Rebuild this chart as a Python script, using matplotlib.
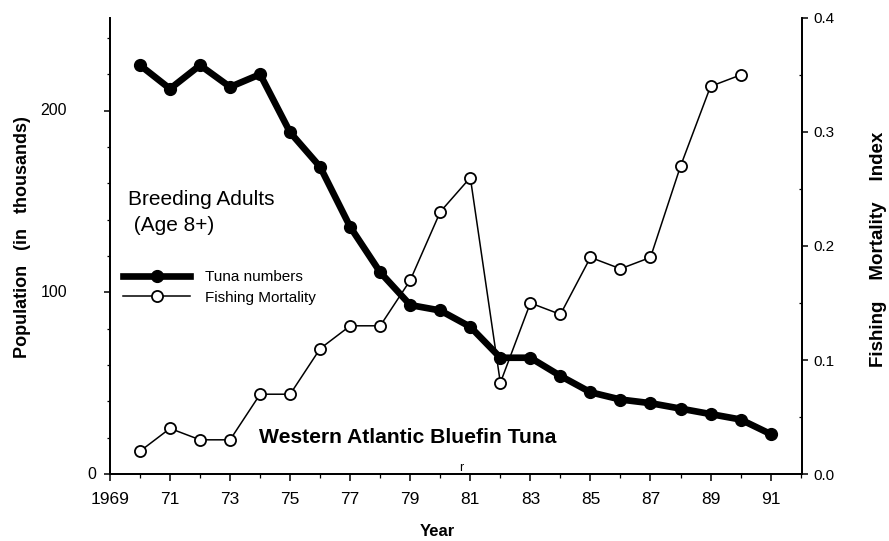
import matplotlib
matplotlib.use("Agg")
import matplotlib.pyplot as plt
from matplotlib.ticker import MultipleLocator, FixedLocator, FuncFormatter, NullFormatter

plt.rcParams["font.family"] = ["Liberation Sans", "DejaVu Sans"]

# ── data ─────────────────────────────────────────────────────────────────
years = list(range(1970, 1992))
tuna_numbers = [225, 212, 225, 213, 220, 188, 169, 136, 111, 93, 90, 81,
                64, 64, 54, 45, 41, 39, 36, 33, 30, 22]
fishing_years = list(range(1970, 1991))
fishing_mortality = [0.02, 0.04, 0.03, 0.03, 0.07, 0.07, 0.11, 0.13, 0.13, 0.17,
                     0.23, 0.26, 0.08, 0.15, 0.14, 0.19, 0.18, 0.19, 0.27, 0.34,
                     0.35]
year_ticks = list(range(1969, 1992, 2))
pop_ticks = [0, 100, 200]


def year_label(v, pos):
    v = int(round(v))
    return "1969" if v == 1969 else f"{v % 100:02d}"


fig = plt.figure(figsize=(8.89, 5.41), dpi=100)
ax = fig.add_axes([0.1237, 0.1238, 0.7786, 0.843])
ax2 = ax.twinx()

# ── series ───────────────────────────────────────────────────────────────
tuna_line, = ax.plot(years, tuna_numbers, color="black", lw=4.8,
                     marker="o", ms=8.5, mfc="black", mec="black",
                     solid_joinstyle="round", label="Tuna numbers")
fish_line, = ax2.plot(fishing_years, fishing_mortality, color="black", lw=1.1,
                      marker="o", ms=8, mfc="white", mec="black", mew=1.3,
                      label="Fishing Mortality")

# ── axes / ticks ─────────────────────────────────────────────────────────
ax.set_xlim(1969, 1992.05)
ax.set_ylim(0, 251)
ax2.set_ylim(0, 0.4)

ax.xaxis.set_major_locator(FixedLocator(year_ticks))
ax.xaxis.set_minor_locator(MultipleLocator(1))
ax.xaxis.set_major_formatter(FuncFormatter(year_label))
ax.yaxis.set_major_locator(FixedLocator(pop_ticks))
ax.yaxis.set_minor_locator(MultipleLocator(20))
ax.yaxis.set_major_formatter(NullFormatter())
ax2.yaxis.set_major_locator(MultipleLocator(0.1))
ax2.yaxis.set_minor_locator(MultipleLocator(0.05))
ax2.yaxis.set_major_formatter(FuncFormatter(lambda v, p: f"{v:.1f}"))

for a in (ax, ax2):
    a.spines["top"].set_visible(False)
    for s in a.spines.values():
        s.set_linewidth(1.3)
ax.tick_params(axis="x", which="major", length=5, width=1.1, labelsize=12.5, pad=8)
ax.tick_params(axis="x", which="minor", length=3, width=0.9)
ax.tick_params(axis="y", which="major", length=4, width=1.1)
ax.tick_params(axis="y", which="minor", length=2.5, width=0.9)
ax2.tick_params(axis="y", which="major", length=4, width=1.1, labelsize=11, pad=4)
ax2.tick_params(axis="y", which="minor", direction="in", length=2.5, width=0.9)

# left tick labels are placed by hand in the original (0 sits closer)
ytr = ax.get_yaxis_transform()
for v in pop_ticks:
    xpos = -0.026 if v == 0 else -0.081
    ax.text(xpos, v, str(v), transform=ytr, fontsize=11.5,
            ha="center", va="center")

ax.set_ylabel("Population   (in   thousands)", fontsize=13, fontweight="bold")
ax.yaxis.set_label_coords(-0.127, 0.52)
ax.yaxis.label.set_verticalalignment("center")
ax.set_xlabel("Year", fontsize=12, fontweight="bold")
ax.xaxis.set_label_coords(0.4725, -0.125)
ax.xaxis.label.set_verticalalignment("center")
ax2.set_ylabel("Fishing    Mortality    Index", fontsize=13.5,
               fontweight="bold", rotation=90)
ax2.yaxis.set_label_coords(1.1098, 0.493)
ax2.yaxis.label.set_verticalalignment("center")

# ── annotations ──────────────────────────────────────────────────────────
ax.text(1969.6, 144, "Breeding Adults\n (Age 8+)", fontsize=15,
        linespacing=1.45, va="center", ha="left")
ax.text(1973.95, 17, "Western Atlantic Bluefin Tuna", fontsize=15.2,
        fontweight="bold", va="baseline", ha="left")
fig.text(0.5186, 0.135, "r", fontsize=9, ha="center", va="center")

ax.legend(handles=[tuna_line, fish_line], loc="center left",
          bbox_to_anchor=(0.0188, 0.409), frameon=False, fontsize=11,
          handlelength=4.4, handletextpad=1.0, labelspacing=0.4,
          borderpad=0, borderaxespad=0, numpoints=1)

fig.savefig("out.png", dpi=100)
